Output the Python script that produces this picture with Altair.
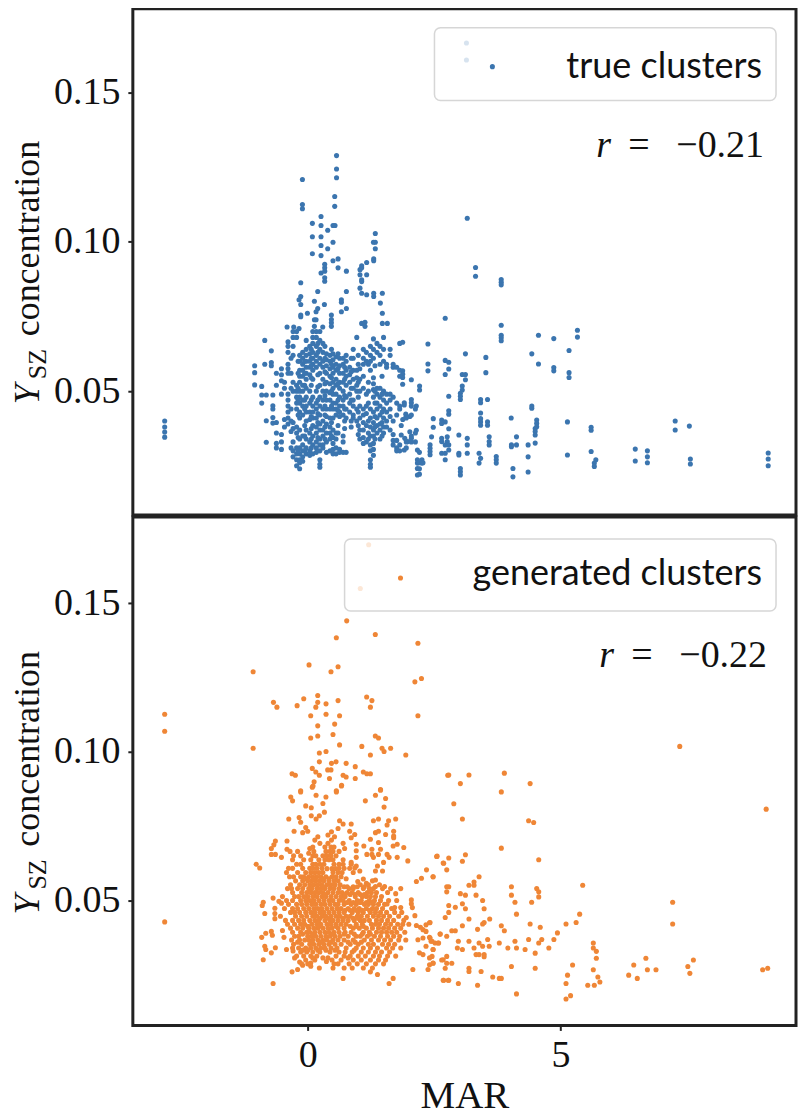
import altair as alt
import pandas as pd

# ---- true clusters: isolated points (MAR, Y_SZ)
true_upper = [(0.57,.1289),(0.57,.1244),(0.57,.1215),(-0.105,.1209),(0.534,.1152),(0.534,.1119),(-0.105,.1125),(-0.105,.1111),
 (0.263,.1085),(0.092,.1062),(0.263,.1055),(0.50,.1055),(0.54,.1055),(0.395,.1039),(0.092,.1017),(0.263,.1017),(0.50,.0999),(0.263,.0988),
 (0.395,.0977),(0.092,.0960),(0.263,.0954),(0.50,.0937),(0.60,.0943),(0.336,.0925),(0.336,.0913),(0.60,.0913),(0.263,.0896),(0.336,.0902),
 (0.765,.0902),(0.336,.0880),(0.336,.0868),(-0.138,.0863),(0.198,.0834),(0.765,.0834),(-0.138,.0817),(-0.172,.0806),(-0.138,.0790),
 (0.132,.0801),(0.33,.0790),(0.666,.0806),(0.666,.0798),(0.765,.0777),(0.666,.0766),(0.198,.0777),(0.165,.0766),(-0.006,.0761),
 (-0.138,.0755),(-0.138,.0749),(0.468,.0755),(0.468,.0740),(0.132,.0739),(0.165,.0739),(0.468,.0729),(0.468,.0717),(-0.409,.0715),
 (-0.277,.0715),(-0.172,.0710),(0.132,.0717),(0.297,.0715),
 (1.337,.1028),(1.30,.0999),(1.337,.0999),(1.337,.0977),(1.305,.0943),(1.305,.0937),(1.166,.0931),(1.067,.0920),(1.067,.0913),
 (1.034,.0907),(1.034,.0890),(1.166,.0890),(1.067,.0873),(1.067,.0867),(1.034,.0845),(1.067,.0828),(1.166,.0823),(1.305,.0828),
 (1.305,.0817),(1.476,.0828),(1.437,.0795),(1.476,.0761),(1.067,.0727),(1.133,.0731),(1.133,.0717),(1.476,.0727),(1.575,.0727)]

true_right = [(3.14,.1666),(3.14,.1609),(3.156,.1079),(3.32,.0914),(3.32,.0885),(3.828,.0874),(3.828,.0865),(3.828,.0856),(2.72,.0744),(3.828,.0721),
 (3.828,.0687),(3.828,.0679),(3.828,.0669),(4.565,.0687),(4.868,.0676),(5.336,.0704),(5.336,.0681),(1.878,.0664),(2.378,.0658),(5.17,.0636),
 (3.12,.0625),(4.433,.0625),(3.524,.0613),(2.72,.0603),(2.79,.0597),(2.378,.0591),(2.378,.0568),(4.565,.0591),(4.868,.0579),(4.868,.0568),
 (2.79,.0574),(1.878,.0568),(1.878,.0557),(1.878,.0546),(1.878,.0523),(2.72,.0556),(3.057,.0556),(3.12,.0556),(3.12,.0538),(3.524,.0562),
 (5.17,.0562),(5.17,.0546),(2.05,.0538),(2.213,.0517),(2.213,.0504),(3.057,.0517),(3.057,.0504),(3.02,.0493),(3.02,.0483),(3.02,.0472),
 (2.79,.0483),(3.557,.0472),(3.42,.0472),(3.42,.0461),(2.05,.0472),(2.05,.0461),(1.91,.0461),(1.91,.0454),(2.148,.0450),(4.433,.0450),
 (4.433,.0443),(2.79,.0434),(2.79,.0423),(3.42,.0427),(4.025,.0410),(1.94,.0423),(2.02,.0415),(1.94,.0412),(1.88,.0405),(2.484,.0408),
 (2.484,.0379),(2.65,.0403),(2.72,.0397),(2.65,.0392),(3.42,.0408),(3.42,.0397),(3.42,.0386),(3.557,.0397),(3.557,.0386),(4.53,.0403),
 (4.53,.0392),(4.53,.0381),(4.50,.0375),(4.50,.0365),(4.50,.0353),(5.138,.0397),(5.607,.0379),(5.607,.0369),(2.79,.0374),(2.148,.0369),
 (2.02,.0364),(1.85,.0385),(2.45,.0347),(2.99,.0353),(2.76,.0347),(2.65,.0342),(2.65,.0331),(2.76,.0331),(2.72,.0320),(2.79,.0320),
 (3.156,.0342),(3.156,.0320),(3.156,.0292),(3.59,.0347),(3.59,.0331),(3.59,.0320),(2.05,.0342),(1.98,.0331),(1.85,.0353),(1.92,.0342),
 (4.13,.0347),(4.13,.0320),(4.03,.0320),(4.03,.0314),(4.50,.0326),(4.36,.0320),(4.36,.0280),(4.36,.0229),(2.42,.0320),(2.42,.0309),
 (2.42,.0298),(2.42,.0287),(1.91,.0303),(2.17,.0303),(2.79,.0303),(2.65,.0292),(2.72,.0292),(2.72,.0270),(2.99,.0292),(2.99,.0286),
 (3.39,.0292),(3.42,.0275),(3.39,.0259),(3.73,.0281),(3.73,.0270),(3.73,.0259),(5.138,.0286),(5.607,.0298),(5.70,.0270),(5.67,.0259),
 (5.67,.0248),(2.17,.0270),(2.17,.0259),(2.17,.0241),(2.17,.0219),(2.26,.0270),(2.26,.0259),(3.02,.0241),(3.02,.0230),(3.02,.0219),
 (4.06,.0241),(4.06,.0213),(6.48,.0306),(6.48,.0266),(6.72,.0300),(6.72,.0280),(6.72,.0260),(7.27,.0400),(7.27,.0370),(7.55,.0383),
 (7.57,.0273),(7.57,.0256),(9.11,.0293),(9.11,.0273),(9.11,.0250),(-2.83,.0400),(-2.83,.0380),(-2.83,.0363),(-2.83,.0346)]

# ---- true clusters: dense core, one MAR value and its Y_SZ readings per column
true_core_mar = [-1.05,-0.91,-0.85,-0.82,-0.72,-0.69,-0.62,-0.52,-0.46,-0.39,-0.29,-0.22,-0.16,-0.10,-0.03,0.04,0.10,0.17,0.24,0.30,0.37,0.44,
 0.50,0.56,0.63,0.70,0.76,0.83,0.90,0.97,1.03,1.10,1.16,1.24,1.30,1.37,1.43,1.50,1.56,1.63,1.69,1.76,1.82,1.95,2.05,2.13,2.21,2.28,
 0.07,0.20,0.34,0.47,0.60,0.73,0.86,1.00,1.20,1.33,1.47,-0.06,-0.19,-0.33]
true_core_y = [[.0585,.0562,.0521],[.0516,.0487,.0460],[.0670,.0590],[.0487,.0401,.0329],[.0635,.0596,.0585],[.0487,.0451,.0440,.0412,.0393],
 [.0560,.0520,.0395,.0360,.0325,.0310],[.0575,.0555,.0535,.0490,.0355,.0330,.0305],[.0530,.0510,.0405,.0380],
 [.0665,.0650,.0630,.0590,.0575,.0560,.0490,.0470,.0450,.0430,.0410,.0390],
 [.0700,.0680,.0650,.0620,.0530,.0500,.0395,.0375,.0330,.0300,.0280],
 [.0700,.0680,.0520,.0500,.0480,.0460,.0440,.0380,.0360,.0310,.0290,.0270,.0250],
 [.0620,.0600,.0570,.0550,.0530,.0500,.0480,.0460,.0430,.0410,.0370,.0340,.0310,.0290,.0270,.0260,.0240],
 [.0630,.0610,.0590,.0570,.0550,.0520,.0500,.0470,.0450,.0420,.0350,.0320,.0300,.0280,.0265],
 [.0670,.0640,.0620,.0600,.0580,.0560,.0540,.0510,.0480,.0450,.0430,.0400,.0370,.0340,.0310,.0290],
 [.0650,.0625,.0600,.0580,.0555,.0500,.0460,.0430,.0405,.0360,.0330,.0300,.0285],
 [.0700,.0680,.0660,.0630,.0610,.0590,.0570,.0540,.0480,.0450,.0430,.0410,.0385,.0350,.0320,.0290],
 [.0700,.0680,.0650,.0620,.0600,.0580,.0500,.0460,.0440,.0410,.0380,.0360,.0330,.0310,.0295],
 [.0700,.0670,.0640,.0610,.0590,.0560,.0520,.0480,.0450,.0420,.0390,.0370,.0340,.0320,.0300,.0270,.0255,.0245],
 [.0660,.0630,.0600,.0580,.0540,.0500,.0470,.0440,.0400,.0370,.0350,.0320,.0310],
 [.0625,.0605,.0585,.0560,.0530,.0500,.0470,.0440,.0415,.0390,.0360,.0330,.0295],
 [.0620,.0600,.0575,.0550,.0525,.0495,.0470,.0440,.0410,.0380,.0360,.0340,.0300],
 [.0625,.0605,.0580,.0560,.0530,.0510,.0490,.0460,.0440,.0410,.0370,.0345,.0325,.0305,.0290],
 [.0615,.0590,.0570,.0540,.0520,.0490,.0460,.0440,.0420,.0360,.0340,.0310,.0290],
 [.0610,.0585,.0560,.0530,.0510,.0480,.0450,.0430,.0415,.0305,.0295],
 [.0610,.0590,.0560,.0530,.0500,.0470,.0450,.0420,.0350,.0330,.0295],
 [.0620,.0600,.0570,.0550,.0520,.0480,.0440,.0410,.0295],
 [.0580,.0555,.0530,.0490,.0460,.0430],
 [.0640,.0610,.0570,.0540,.0510,.0470,.0450,.0420,.0410],
 [.0680,.0570,.0545,.0520,.0500,.0440,.0400],
 [.0575,.0540,.0500,.0450,.0410,.0370,.0340],
 [.0640,.0610,.0590,.0550,.0510,.0440,.0420,.0395,.0370,.0345,.0325],
 [.0630,.0600,.0490,.0450,.0425,.0385,.0330],
 [.0650,.0620,.0600,.0570,.0440,.0410,.0380,.0350,.0320,.0300,.0270,.0255,.0245],
 [.0675,.0640,.0610,.0545,.0525,.0505,.0480,.0430,.0395,.0370,.0350,.0325,.0305,.0285],
 [.0660,.0630,.0510,.0490,.0460,.0440,.0410,.0385,.0360],
 [.0650,.0620,.0590,.0510,.0480,.0450,.0420,.0390,.0370,.0340],
 [.0680,.0640,.0600,.0500,.0470,.0440,.0410,.0380,.0360],
 [.0590,.0580,.0490,.0460,.0430,.0400,.0380],
 [.0640,.0620,.0490,.0470,.0440,.0415,.0370],
 [.0590,.0580,.0480,.0400,.0355,.0335,.0320],
 [.0580,.0460,.0420,.0335,.0310,.0300],
 [.0660,.0570,.0550,.0450,.0440,.0320,.0300],
 [.0410,.0330,.0310],[.0450,.0420,.0350,.0330],[.0440,.0360,.0330],[.0295,.0260,.0240,.0222],[.0260],
 [.0640,.0610,.0585,.0545,.0520,.0470,.0415,.0375,.0340,.0310],
 [.0660,.0630,.0555,.0515,.0470,.0425,.0395,.0345],
 [.0650,.0610,.0565,.0525,.0485,.0450,.0420,.0380,.0340],
 [.0640,.0590,.0545,.0500,.0450,.0395,.0350],
 [.0625,.0575,.0525,.0470,.0435,.0385,.0360],
 [.0580,.0540,.0485,.0440,.0400,.0375],
 [.0610,.0565,.0510,.0470,.0400,.0380],
 [.0620,.0590,.0530,.0480,.0430,.0385,.0355],
 [.0590,.0530,.0500,.0460,.0400,.0360,.0340],
 [.0585,.0500,.0460,.0415,.0380,.0340],
 [.0550,.0490,.0430,.0395,.0350],
 [.0600,.0560,.0520,.0470,.0440,.0385,.0350,.0300],
 [.0600,.0560,.0510,.0470,.0420,.0345,.0300],
 [.0610,.0560,.0510,.0440,.0400,.0365,.0310]]

# ---- generated clusters: isolated points
gen_upper = [(1.206,.1696),(1.04,.1549),(0.771,.1440),(0.566,.1383),(1.337,.1394),(2.18,.1365),(-1.08,.1269),(0.026,.1292),(0.60,.1286),(0.46,.1269),
 (2.12,.1235),(2.25,.1246),(-2.83,.1126),(-2.83,.1069),(0.198,.1189),(0.198,.1166),(-0.079,.1178),(-0.21,.1155),(-0.678,.1166),(-0.61,.1150),
 (0.16,.1150),(0.362,.1161),(0.60,.1172),(1.166,.1184),(1.27,.1172),(1.24,.1150),(0.059,.1121),(0.362,.1126),(0.63,.1121),(2.18,.1121),
 (0.198,.1087),(0.533,.1093),(0.059,.1046),(0.198,.1053),(0.50,.1058),(1.337,.1053),(1.40,.1046),(-1.08,.1012),(0.63,.1023),(1.07,.1018),
 (1.47,.1012),(1.51,.1001),(1.64,.1012),(1.24,.0989),(1.94,.0989),(0.362,.1001),(0.23,.0996),(0.23,.0966),(0.47,.0961),(0.56,.0966),
 (0.76,.0961),(0.94,.0950),(0.09,.0944),(0.16,.0932),(0.23,.0921),(0.395,.0939),(0.46,.0939),(0.70,.0921),(0.76,.0915),(0.94,.0910),
 (1.10,.0932),(1.17,.0926),(1.24,.0926),(-0.31,.0926),(-0.245,.0921),(0.43,.0910),(0.126,.0899),(0.09,.0881),(0.67,.0887),(-0.14,.0869),
 (0.566,.0869),(1.44,.0873),(2.77,.0921),(-2.83,.0428)]

gen_right = [(7.36,.1018),(9.07,.0807),(2.79,.0922),(3.19,.0922),(3.89,.0928),(3.02,.0893),(4.40,.0893),(3.83,.0865),(2.89,.0825),(3.06,.0774),
 (4.37,.0768),(4.47,.0762),(3.83,.0676),(4.57,.0637),(2.55,.0648),(2.79,.0643),(3.12,.0654),(2.69,.0625),(3.06,.0632),(2.75,.0603),(2.48,.0580),
 (3.39,.0580),(3.19,.0551),(3.29,.0562),(3.29,.0551),(2.75,.0546),(2.79,.0546),(2.75,.0529),(4.03,.0546),(4.03,.0518),(4.53,.0540),(4.57,.0529),
 (4.57,.0512),(5.44,.0551),(3.02,.0523),(3.12,.0518),(3.33,.0518),(3.46,.0500),(3.49,.0472),(4.10,.0494),(4.43,.0494),(7.22,.0494),(7.22,.0421),
 (2.79,.0483),(3.06,.0489),(2.92,.0477),(3.12,.0472),(2.79,.0460),(2.72,.0443),(4.13,.0454),(5.38,.0454),(5.31,.0426),(5.11,.0421),(3.19,.0438),
 (3.60,.0438),(3.46,.0421),(3.49,.0426),(3.06,.0415),(2.42,.0426),(3.83,.0415),(3.89,.0398),(4.40,.0421),(4.60,.0410),(3.36,.0403),(2.85,.0398),
 (2.92,.0398),(2.62,.0387),(2.75,.0380),(4.94,.0391),(2.42,.0374),(2.46,.0363),(2.52,.0357),(2.59,.0357),(2.98,.0363),(3.19,.0363),(3.39,.0357),
 (3.56,.0369),(3.79,.0357),(4.10,.0363),(4.37,.0369),(4.57,.0357),(4.63,.0369),(4.87,.0369),(2.96,.0340),(3.06,.0335),(3.29,.0340),(3.46,.0346),
 (3.59,.0346),(3.96,.0340),(4.13,.0340),(4.30,.0335),(4.77,.0340),(2.48,.0335),(5.65,.0357),(5.65,.0340),(5.71,.0329),(5.71,.0306),(3.33,.0318),
 (3.39,.0318),(3.49,.0318),(3.49,.0311),(4.50,.0323),(2.75,.0312),(2.65,.0300),(2.75,.0289),(2.85,.0289),(2.46,.0312),(2.48,.0289),(2.72,.0272),
 (3.19,.0272),(3.19,.0261),(3.43,.0261),(4.03,.0278),(4.50,.0272),(5.24,.0283),(5.14,.0249),(5.65,.0267),(5.74,.0243),(5.78,.0226),(5.54,.0215),
 (5.67,.0215),(5.11,.0221),(5.20,.0180),(5.11,.0169),(4.13,.0186),(3.66,.0243),(3.79,.0238),(3.83,.0238),(2.69,.0232),(2.79,.0232),(2.98,.0221),
 (3.36,.0215),(6.45,.0283),(6.69,.0306),(6.72,.0267),(6.89,.0267),(6.35,.0249),(6.52,.0238),(7.63,.0300),(7.52,.0278),(7.56,.0255),(9.0,.0267),(9.10,.0272)]

gen_mid = [(0.105,.0885),(0.667,.0885),(-0.14,.0865),(-0.336,.0848),(-0.30,.0835),(0.165,.0854),(0.36,.0848),(0.567,.0865),(1.44,.0871),(1.34,.0854),
 (1.54,.0843),(1.14,.0835),(1.51,.0814),(-0.04,.0818),(0.07,.0812),(0.30,.0826),(0.33,.0797),(0.07,.0785),(0.23,.0785),(0.165,.0774),(-0.375,.0774),
 (-0.17,.0779),(-0.14,.0763),(-0.27,.0733),(-0.10,.0728),(-0.04,.0745),(0.0,.0733),(0.63,.0768),(0.70,.0757),(0.86,.0757),(0.60,.0742),(1.30,.0768),
 (1.40,.0774),(1.60,.0768),(1.74,.0774),(1.57,.0754),(0.83,.0733),(0.93,.0722),(0.86,.0711),(1.34,.0728),(1.40,.0733),(1.54,.0722),(1.70,.0733),
 (1.70,.0717),(1.24,.0706),(1.40,.0695),(1.70,.0711),(0.47,.0731),(0.40,.0720),(0.53,.0714),(0.47,.0703),(0.40,.0692),(0.20,.0714),(0.14,.0703),
 (0.24,.0692),(-0.64,.0700),(-0.67,.0687),(-0.72,.0675),(-0.41,.0700),(-0.72,.0655),(-0.64,.0655),(-0.41,.0672),(-0.35,.0665),(-0.20,.0665),
 (-0.52,.0645),(0.04,.0675),(0.10,.0680),(0.02,.0659),(0.70,.0692),(0.73,.0675),(0.96,.0689),(0.96,.0667),(0.96,.0645),(1.11,.0683),(1.69,.0683),
 (1.77,.0689),(1.90,.0678),(1.17,.0655),(1.27,.0672),(1.27,.0655),(1.30,.0645),(1.44,.0672),(1.40,.0655),(1.57,.0655),(1.61,.0645),(1.77,.0645),
 (1.98,.0633),(2.56,.0649),(2.68,.0626),(-1.02,.0622),(-0.95,.0609),(1.50,.0628),(1.38,.0616),(1.34,.0599),(1.48,.0599),(0.86,.0628),(0.96,.0616),
 (0.93,.0609),(1.03,.0599),(2.35,.0603),(2.15,.0564),(2.25,.0575),(2.48,.0580),(0.99,.0564),(1.10,.0572),(1.16,.0558),(1.34,.0569),(1.34,.0547),
 (1.52,.0547),(1.64,.0540),(1.84,.0540),(1.74,.0523),(-0.88,.0494),(-0.90,.0483),(-0.85,.0456),(-0.65,.0474),(-0.65,.0456),(-0.65,.0439),(-0.685,.0508),
 (-0.57,.0497),(-0.52,.0491),(2.05,.0502),(2.05,.0489),(2.07,.0476),(1.84,.0476),(1.72,.0476),(1.57,.0488),(1.44,.0500),(2.12,.0449),(1.95,.0443),
 (2.41,.0425),(2.34,.0418),(2.15,.0416),(2.23,.0410),(2.28,.0402),(2.34,.0396),(2.62,.0387),(2.18,.0368),(2.28,.0374),(2.41,.0376),(2.44,.0363),
 (2.58,.0357),(2.34,.0346),(2.48,.0335),(2.21,.0324),(2.28,.0318),(2.41,.0307),(2.68,.0301),(2.48,.0290),(2.41,.0284),(2.38,.0268),(2.08,.0268),
 (2.68,.0232),(2.78,.0232),(-0.685,.0221),(0.70,.0238),(1.61,.0221),(1.69,.0238),(1.38,.0251),(1.24,.0260),(-0.31,.0260),(-0.20,.0268),(-0.10,.0282),
 (0.06,.0290),(0.06,.0279),(0.23,.0273),(0.37,.0295),(-0.88,.0301),(-0.83,.0335),(-0.72,.0324),(-0.64,.0341),(-0.85,.0346),(-0.91,.0376),(-0.83,.0390),
 (-0.72,.0396),(-0.70,.0383),(-0.50,.0399),(-0.47,.0376),(-0.42,.0335),(-0.29,.0330),(-0.26,.0307),(-0.16,.0293)]

# ---- generated clusters: dense core, one Y_SZ reading and its MAR values per row
gen_core_y = [.0680,.0665,.0650,.0637,.0622,.0608,.0594,.0580,.0566,.0553,.0540,.0527,.0513,.0500,.0487,.0473,.0460,.0447,.0433,.0420,.0407,.0393,.0380,.0367,.0353,.0340,.0327,.0313,.0300,.0287,.0273,
 .0607,.0573,.0546,.0520,.0493,.0467,.0440,.0413,.0387,.0360,.0333,.0307]
gen_core_mar = [[.46,.52,.34],[.36,.44,.50,.12,.62],[.30,.38,.46,.56,.10,.16,-.28,-.14],[.22,.34,.42,.50,.70,-.30,-.08,.06],
 [.10,.16,.24,.32,.52,.62,.70,-.22,-.14,.86],[-.38,-.30,.04,.10,.18,.28,.62,.72,-.10,.83],[-.42,-.20,-.04,.06,.14,.22,.30,.50,.60,.68,.90],
 [-.36,-.28,-.14,-.08,.02,.10,.18,.26,.36,.48,.56,.66],[-.24,-.10,.00,.08,.16,.24,.32,.42,.52,.60,1.28],
 [-.34,-.16,-.06,.04,.12,.20,.28,.38,.46,.54,.64,1.04,1.20,1.42],
 [-.40,-.32,-.20,-.10,.02,.08,.18,.26,.34,.44,.52,.62,.82,.90,1.10,1.22,1.30,1.48],
 [-.30,-.12,-.02,.06,.14,.22,.30,.40,.50,.60,.68,.78,.88,1.00,1.18,1.26,1.36,1.58],
 [-.50,-.26,-.18,-.08,.00,.10,.18,.28,.36,.46,.56,.66,.74,.94,1.08,1.16,1.24,1.34,1.46],
 [-.42,-.30,-.14,-.04,.04,.12,.22,.32,.42,.50,.62,.70,.82,.98,1.06,1.22,1.32,1.60,1.76],
 [-.38,-.22,-.12,-.02,.08,.16,.26,.34,.44,.54,.60,.72,.86,.96,1.12,1.20,1.30,1.40,1.52],
 [-.46,-.30,-.20,-.08,.02,.12,.20,.28,.38,.48,.58,.66,.80,.92,1.02,1.16,1.28,1.36,1.48,1.66],
 [-.34,-.26,-.16,-.04,.06,.14,.24,.32,.42,.52,.62,.72,.88,1.00,1.10,1.24,1.34,1.44,1.56,1.72,1.86],
 [-.54,-.24,-.12,-.02,.10,.18,.28,.36,.46,.56,.64,.76,.84,.98,1.06,1.18,1.30,1.40,1.50,1.62,1.80],
 [-.44,-.30,-.18,-.08,.04,.14,.22,.34,.44,.50,.60,.70,.80,.92,1.04,1.12,1.22,1.36,1.46,1.58,1.70,1.90],
 [-.40,-.26,-.14,-.06,.08,.18,.26,.38,.46,.56,.66,.76,.96,1.08,1.26,1.34,1.42,1.54,1.64,1.78,1.88,2.00],
 [-.34,-.20,-.10,.02,.12,.20,.30,.40,.48,.60,.72,.90,1.02,1.16,1.28,1.40,1.50,1.60,1.72,1.84],
 [-.30,-.14,-.02,.04,.14,.24,.34,.42,.52,.62,.74,.86,1.10,1.22,1.36,1.46,1.56,1.66,1.76,1.92],
 [-.26,-.18,.00,.08,.16,.26,.36,.44,.54,.64,.80,.96,1.04,1.18,1.32,1.44,1.58,1.70,1.82],
 [-.32,-.16,-.06,.02,.10,.20,.30,.38,.50,.60,.72,.90,1.12,1.26,1.40,1.52,1.64,1.80,1.94],
 [-.28,-.12,.04,.12,.22,.32,.42,.54,.66,.84,1.00,1.20,1.30,1.48,1.60,1.72],
 [-.30,-.18,-.04,.06,.16,.26,.34,.46,.58,.76,.96,1.10,1.24,1.38,1.56,1.68,1.84],
 [-.14,-.02,.10,.24,.44,.62,.74,.88,1.06,1.20,1.34,1.46,1.62],
 [-.22,-.08,.06,.18,.56,.72,.84,1.00,1.14,1.30,1.42,1.58,1.74],
 [-.04,.14,.48,.66,.90,1.06,1.24,1.40,1.54],[-.12,.00,.52,.60,.82,.98,1.16,1.34,1.50],[.50,.72,.88,1.10,1.28],
 [.48,.55,.38],[-.02,.12,.30,.42,.76],[.30,.72,.78,.90,.98,1.12],[.74,.84,.94,1.04,1.12,.34],[.78,.90,1.04,1.16,1.28],
 [.74,.84,.96,1.08,1.22],[.70,.90,1.00,.24,.42],[.84,.96,1.10,.56,.22,.00],[.72,.92,1.08,1.24,.48,.10,-.10],
 [.80,.94,1.06,.08,.26,.46,-.20],[.92,.54,.36,.20,.00,-.10],[.30,.40,.80,.10]]

y_ticks = [0.05, 0.10, 0.15]
x_ticks = [0, 5]
x_domain = [-3.46, 9.66]
SERIF = "Liberation Serif"
SANS = "Lato"
INK = "#222222"

true_rows = true_upper + true_right + [(x, y) for x, ys in zip(true_core_mar, true_core_y) for y in ys]
gen_rows = gen_upper + gen_right + gen_mid + [(x, y) for y, xs in zip(gen_core_y, gen_core_mar) for x in xs]
one = pd.DataFrame({"a": [0]})


def txt(s, x, y, size, font=SERIF, **kw):
    return alt.Chart(one).mark_text(text=s, fontSize=size, font=font, color="#111111", **kw).encode(
        x=alt.value(x), y=alt.value(y))


def panel(rows, color, height, y_domain, show_x, box_left, box_top, box_bottom, label, dot_x, dot_y, label_y, r_text, r_x, r_right, r_y, ylab_y):
    df = pd.DataFrame(rows, columns=["MAR", "Y"])
    x_axis = alt.Axis(values=x_ticks, grid=False, domain=False, labelFont=SERIF, labelFontSize=38, labelColor="#111111",
                      labelPadding=6, tickColor=INK, tickWidth=2, tickSize=5, format="d", title="MAR", titleFont=SERIF,
                      titleFontSize=39, titleFontWeight="normal", titleColor="#111111", titlePadding=2) if show_x else None
    pts = alt.Chart(df).mark_circle(size=26, opacity=1, color=color).encode(
        x=alt.X("MAR:Q", scale=alt.Scale(domain=x_domain, nice=False, zero=False), axis=x_axis),
        y=alt.Y("Y:Q", scale=alt.Scale(domain=y_domain, nice=False, zero=False),
                axis=alt.Axis(values=y_ticks, grid=False, domain=False, format=".2f", labelFont=SERIF, labelFontSize=38,
                              labelColor="#111111", labelPadding=8, tickColor=INK, tickWidth=2, tickSize=5, title=None)),
    )
    box = alt.Chart(one).mark_rect(fill="white", fillOpacity=0.8, stroke="#cccccc", strokeOpacity=0.8, strokeWidth=1.5,
                                   cornerRadius=6).encode(
        x=alt.value(box_left), x2=alt.value(644), y=alt.value(box_top), y2=alt.value(box_bottom))
    dot = alt.Chart(one).mark_circle(size=26, opacity=1, color=color).encode(x=alt.value(dot_x), y=alt.value(dot_y))
    return alt.layer(
        pts, box, dot,
        txt(label, 630, label_y, 36, font=SANS, align="right", baseline="alphabetic"),
        txt("r", r_x, r_y, 38, fontStyle="italic", align="left", baseline="alphabetic"),
        txt(r_text, r_right, r_y, 38, align="right", baseline="alphabetic"),
        txt("Y", -94, ylab_y, 36, fontStyle="italic", angle=270, align="left", baseline="alphabetic"),
        txt("SZ", -87, ylab_y - 25, 26, angle=270, align="left", baseline="alphabetic"),
        txt("concentration", -94, ylab_y - 68, 36, angle=270, align="left", baseline="alphabetic"),
    ).properties(width=664, height=height)


top = panel(true_rows, "#3b75af", 507, [0.0085, 0.1781], False, 302, 19, 92, "true clusters", 360, 58, 69,
            "=\u2002\u2009\u22120.21", 464, 632, 148, 396)
bottom = panel(gen_rows, "#ef8636", 509, [0.008, 0.1789], True, 212, 22, 94, "generated clusters", 268, 61, 68,
               "=\u2002\u2009\u22120.22", 467, 635, 150, 398)

chart = alt.vconcat(top, bottom, spacing=-5).properties(padding={"left": 0, "top": -2, "right": 0, "bottom": 0}).configure_view(
    stroke=INK, strokeWidth=3)

chart.save("out.html", embed_options={"renderer": "svg", "actions": False})
